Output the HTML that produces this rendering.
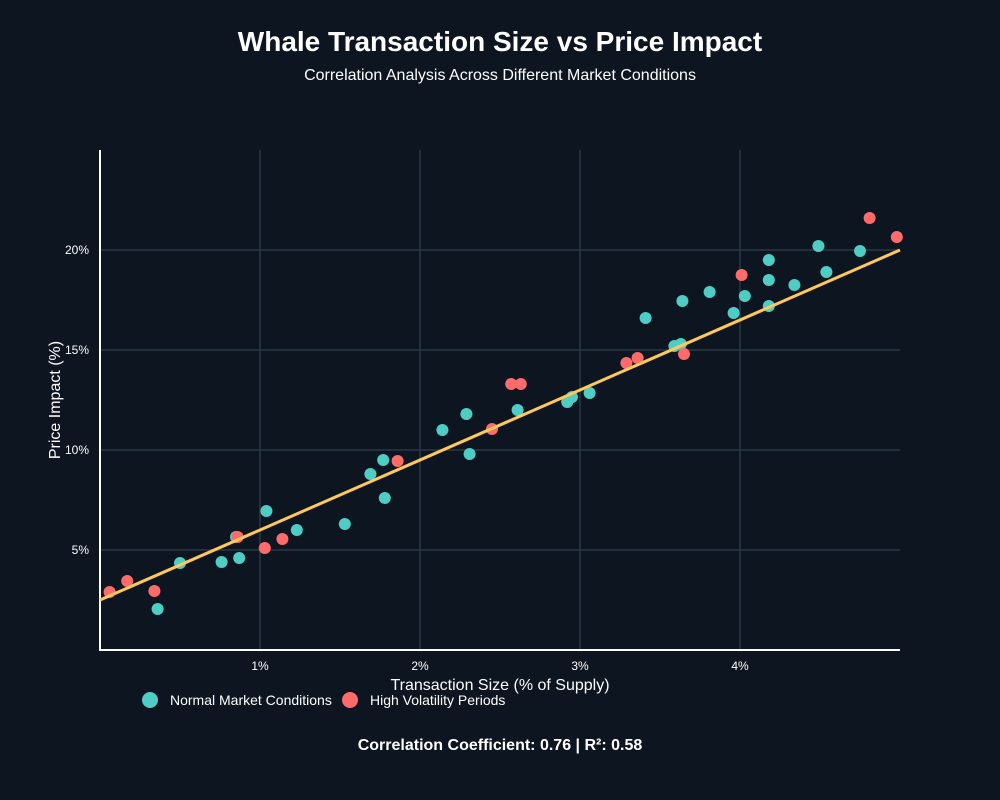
<!DOCTYPE html>
<html><head><meta charset="utf-8"><style>
body{margin:0;background:#0d1520;width:1000px;height:800px;overflow:hidden;font-family:"Liberation Sans",sans-serif;}
</style></head><body>
<svg id="chart" width="1000" height="800" style="display:block">
<rect width="1000" height="800" fill="#0d1520"/>
<text x="500" y="51" text-anchor="middle" fill="#fff" font-size="28" font-weight="bold">Whale Transaction Size vs Price Impact</text>
<text x="500" y="80" text-anchor="middle" fill="#fff" font-size="16">Correlation Analysis Across Different Market Conditions</text>
<g id="grid"></g><g id="marks"></g>
<text x="500" y="690" text-anchor="middle" fill="#fff" font-size="16">Transaction Size (% of Supply)</text>
<text transform="translate(60,400) rotate(-90)" text-anchor="middle" fill="#fff" font-size="16">Price Impact (%)</text>
<g><circle cx="150" cy="700" r="8" fill="#4ecdc4"/><text x="170" y="705" fill="#fff" font-size="14">Normal Market Conditions</text></g>
<g><circle cx="350" cy="700" r="8" fill="#ff6b6b"/><text x="370" y="705" fill="#fff" font-size="14">High Volatility Periods</text></g>
<text x="500" y="750" text-anchor="middle" fill="#fff" font-size="16" font-weight="bold">Correlation Coefficient: 0.76 | R²: 0.58</text>
</svg>
<script>
const xTicks=[1,2,3,4];
const yTicks=[5,10,15,20];
const normalX=[0.36,0.5,0.76,0.85,0.87,1.04,1.23,1.53,1.69,1.77,1.78,2.14,2.29,2.31,2.61,2.92,2.95,3.06,3.41,3.59,3.63,3.64,3.81,3.96,4.03,4.18,4.18,4.18,4.34,4.49,4.54,4.75];
const normalY=[2.05,4.35,4.4,5.65,4.6,6.95,6.0,6.3,8.8,9.5,7.6,11.0,11.8,9.8,12.0,12.4,12.65,12.85,16.6,15.2,15.3,17.45,17.9,16.85,17.7,18.5,17.2,19.5,18.25,20.2,18.9,19.95];
const volX=[0.06,0.17,0.34,0.86,1.03,1.14,1.86,2.45,2.57,2.63,3.29,3.36,3.65,4.01,4.81,4.98];
const volY=[2.9,3.45,2.95,5.65,5.1,5.55,9.45,11.05,13.3,13.3,14.35,14.6,14.8,18.75,21.6,20.65];
const trend=[2.5,3.5];
const NS="http://www.w3.org/2000/svg";
const X=v=>100+v*160, Y=v=>650-v*20;
function mk(p,t,a){const e=document.createElementNS(NS,t);for(const k in a)e.setAttribute(k,a[k]);p.appendChild(e);return e;}
const g=document.getElementById('grid'),m=document.getElementById('marks');
xTicks.forEach(t=>{const l=mk(g,'line',{x1:X(t),x2:X(t),y1:150,y2:650,stroke:'#2a3a44','stroke-width':1.5});


const tx=mk(g,'text',{x:X(t),y:670,fill:'#fff','font-size':12,'text-anchor':'middle'});tx.textContent=t+'%';

});
yTicks.forEach(t=>{const l=mk(g,'line',{x1:100,x2:900,y1:Y(t),y2:Y(t),stroke:'#2a3a44','stroke-width':1.5});


const tx=mk(g,'text',{x:89,y:Y(t)+4,fill:'#fff','font-size':12,'text-anchor':'end'});tx.textContent=t+'%';

});
const ax=mk(g,'path',{d:'M100 150V650H900',stroke:'#fff','stroke-width':2,fill:'none'});


normalX.forEach((v,i)=>{const c=mk(m,'circle',{cx:X(v),cy:Y(normalY[i]),r:6,fill:'#4ecdc4'});

});
volX.forEach((v,i)=>{const c=mk(m,'circle',{cx:X(v),cy:Y(volY[i]),r:6,fill:'#ff6b6b'});

});
const tl=mk(m,'line',{x1:X(0),y1:Y(trend[0]),x2:X(5),y2:Y(trend[0]+trend[1]*5),stroke:'#ffc857','stroke-width':3});


</script>
</body></html>
